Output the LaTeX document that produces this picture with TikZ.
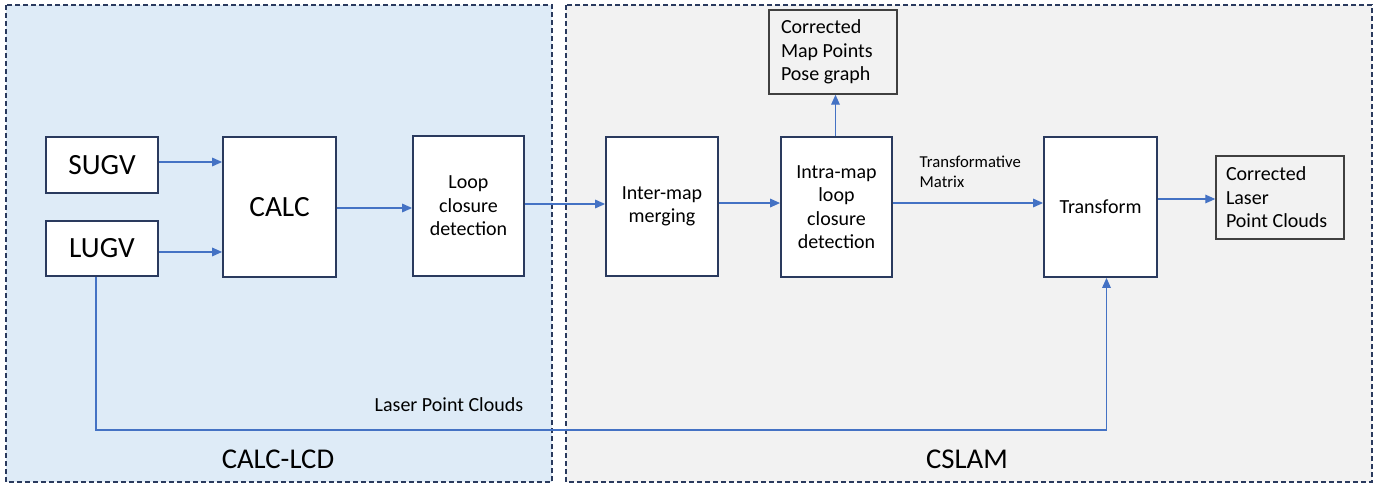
\documentclass[tikz,border=0pt]{standalone}
\usepackage{fontspec}
\setmainfont{Carlito}
\usetikzlibrary{arrows.meta}
\definecolor{panelblue}{HTML}{DEEBF7}
\definecolor{panelgray}{HTML}{F2F2F2}
\definecolor{navy}{HTML}{2A3A5E}
\definecolor{arrowblue}{HTML}{4472C4}
\definecolor{boxgray}{HTML}{404040}
\tikzset{
  panel/.style={draw=navy, line width=1.1pt, dash pattern=on 3.5pt off 2.5pt},
  proc/.style={draw=navy, fill=white, line width=1.4pt, align=center, inner sep=0pt},
  outbox/.style={draw=boxgray, fill=panelgray, line width=1.1pt, align=flush left, inner sep=0pt},
  big/.style={font=\fontsize{22}{26}\selectfont},
  med/.style={font=\fontsize{15}{17.6}\selectfont},
  small/.style={font=\fontsize{12.5}{15}\selectfont},
  conn/.style={draw=arrowblue, line width=0.9pt, -{Triangle[length=7.5pt,width=6.5pt]}},
  line/.style={draw=arrowblue, line width=0.9pt},
}
\begin{document}
\begin{tikzpicture}[x=0.75pt, y=-0.75pt]
\useasboundingbox (0,0) rectangle (1390,485);
% panels
\path[panel, fill=panelblue] (6,5) rectangle (552,482);
\path[panel, fill=panelgray] (566,5) rectangle (1372,482);
\node[font=\fontsize{21.5}{25}\selectfont] (lcdlabel) at (278,459) {CALC-LCD};
\node[font=\fontsize{21.5}{25}\selectfont] (cslamlabel) at (967,459) {CSLAM};
% boxes
\node[proc, big, minimum width=112*0.75pt, minimum height=56*0.75pt] (sugv) at (102,165) {SUGV};
\node[proc, big, minimum width=112*0.75pt, minimum height=55*0.75pt] (lugv) at (102,248.5) {LUGV};
\node[proc, big, minimum width=113*0.75pt, minimum height=140*0.75pt] (calc) at (279.5,207) {CALC};
\node[proc, med, minimum width=111*0.75pt, minimum height=140*0.75pt] (lcd) at (468.5,206) {Loop\\closure\\detection};
\node[proc, med, minimum width=112*0.75pt, minimum height=139*0.75pt] (inter) at (662,206.5) {Inter-map\\merging};
\node[proc, med, minimum width=111*0.75pt, minimum height=140*0.75pt] (intra) at (836.5,207) {Intra-map\\loop\\closure\\detection};
\node[proc, med, minimum width=113*0.75pt, minimum height=140*0.75pt] (trans) at (1100.5,207) {Transform};
\node[outbox, med, minimum width=128*0.75pt, minimum height=84*0.75pt, text width=104*0.75pt] (cmp) at (833,52) {Corrected\\Map Points\\Pose graph};
\node[outbox, med, minimum width=128*0.75pt, minimum height=83*0.75pt, text width=108*0.75pt] (clpc) at (1280,197.5) {Corrected\\Laser\\Point Clouds};
% labels
\node[small, anchor=west, align=left] (tmlabel) at (915,172) {Transformative\\Matrix};
\node[med, anchor=west] (lpclabel) at (370,405) {Laser Point Clouds};
% connectors
\path[conn] ([yshift=2.25pt]sugv.east) -- ([yshift=2.25pt]sugv.east -| calc.west);
\path[conn] ([yshift=-2.6pt]lugv.east) -- ([yshift=-2.6pt]lugv.east -| calc.west);
\path[conn] ([yshift=-0.75pt]calc.east) -- ([yshift=-0.75pt]calc.east -| lcd.west);
\path[conn] ([yshift=1.5pt]lcd.east) -- ([yshift=1.5pt]lcd.east -| inter.west);
\path[conn] ([yshift=2.6pt]inter.east) -- ([yshift=2.6pt]inter.east -| intra.west);
\path[conn] ([yshift=3pt]intra.east) -- ([yshift=3pt]intra.east -| trans.west);
\path[conn] ([yshift=6pt]trans.east) -- ([yshift=6pt]trans.east -| clpc.west);
\path[conn] ([xshift=-0.75pt]intra.north) -- ([xshift=-0.75pt]intra.north |- cmp.south);
\coordinate (c1) at ([xshift=-4.5pt]lugv.south |- 0,430);
\coordinate (c2) at ([xshift=4.5pt]trans.south |- 0,430);
\path[line] ([xshift=-4.5pt]lugv.south) -- (c1) -- (c2);
\path[conn] (c2) -- ([xshift=4.5pt]trans.south);
\end{tikzpicture}
\end{document}
